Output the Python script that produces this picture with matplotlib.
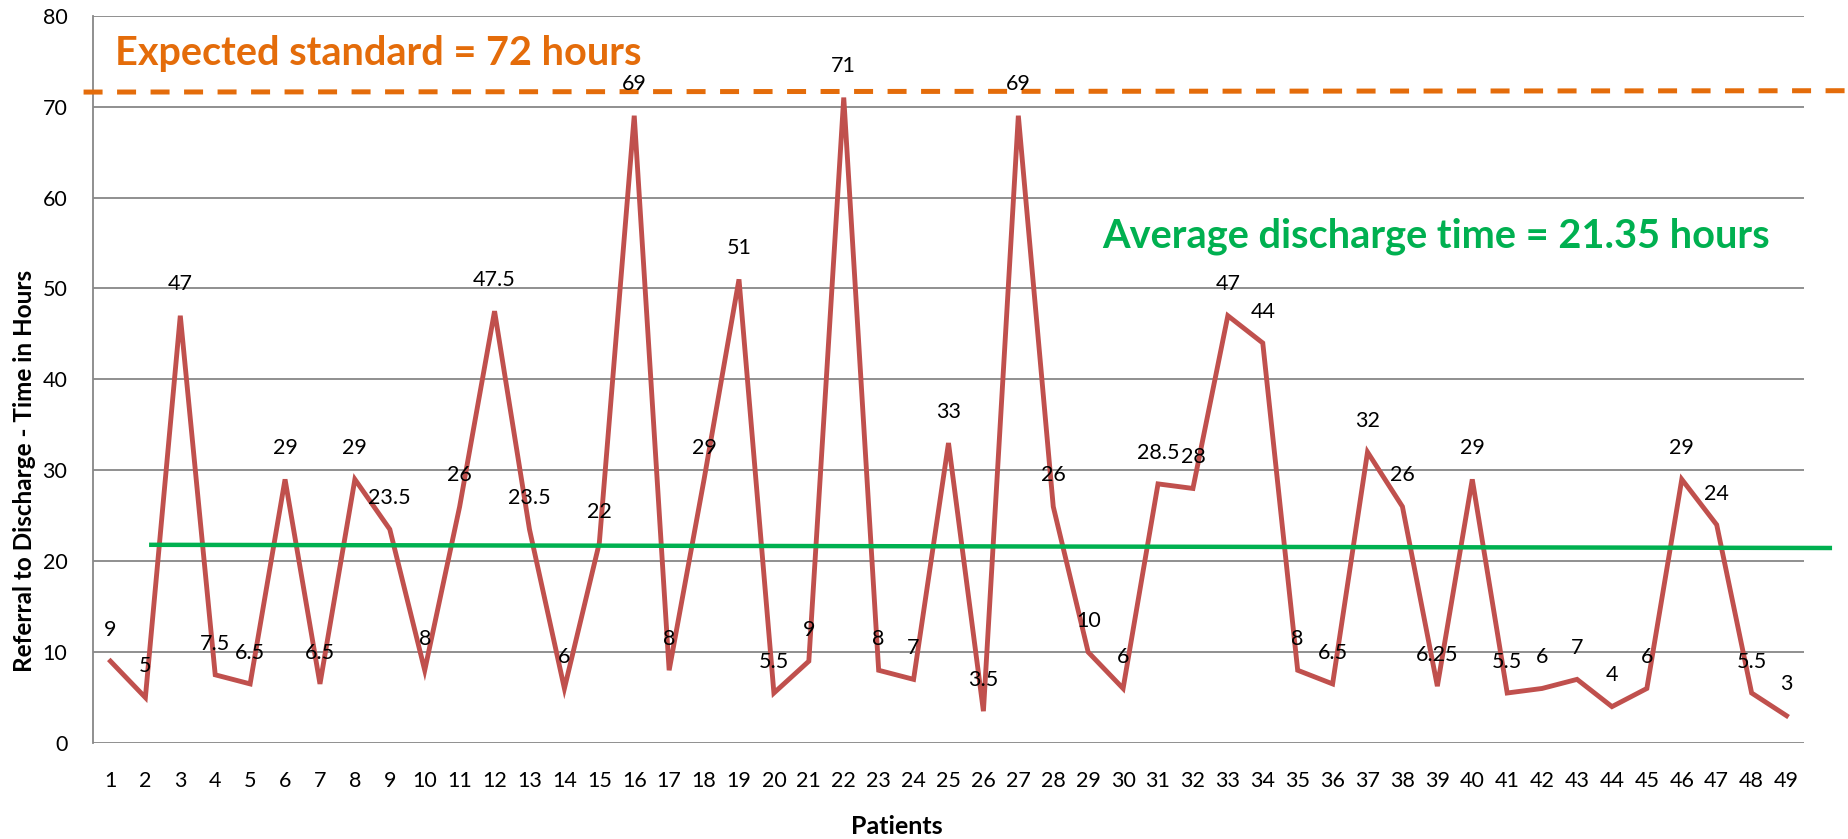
import matplotlib
matplotlib.use("Agg")
import matplotlib.pyplot as plt

# referral-to-discharge times per patient (hours)
patients = list(range(1, 50))
hours = [9, 5, 47, 7.5, 6.5, 29, 6.5, 29, 23.5, 8,
         26, 47.5, 23.5, 6, 22, 69, 8, 29, 51, 5.5,
         9, 71, 8, 7, 33, 3.5, 69, 26, 10, 6,
         28.5, 28, 47, 44, 8, 6.5, 32, 26, 6.25, 29,
         5.5, 6, 7, 4, 6, 29, 24, 5.5, 3]
y_ticks = [0, 10, 20, 30, 40, 50, 60, 70, 80]

# hand drawn reference lines (x ends, y ends)
expected_x = [0.23, 50.8]
expected_y = [71.6, 71.75]
average_x = [2.17, 50.24]
average_y = [21.8, 21.45]

RED = "#C0504D"
GREEN = "#00B050"
ORANGE = "#E46C0A"
GRID = "#878787"

plt.rcParams["font.family"] = ["Lato", "DejaVu Sans"]

fig = plt.figure(figsize=(18.49, 8.39), dpi=100)
ax = fig.add_axes([93 / 1849, 1 - 743 / 839, 1711 / 1849, 727.3 / 839])

ax.set_xlim(0.5, 49.5)
ax.set_ylim(0, 80)
ax.set_yticks(y_ticks)
ax.set_xticks(patients)
ax.set_xticklabels([str(p) for p in patients])
ax.yaxis.grid(True, color=GRID, lw=1.3)
ax.set_axisbelow(True)
for side in ["top", "right", "bottom"]:
    ax.spines[side].set_visible(False)
ax.spines["left"].set_color(GRID)
ax.spines["left"].set_linewidth(1.3)
ax.tick_params(axis="both", length=0, labelsize=15.5, colors="black")
ax.tick_params(axis="y", pad=18.5)
ax.tick_params(axis="x", pad=20)

ax.plot(patients, hours, color=RED, lw=3.5, solid_joinstyle="miter", zorder=3)

for p, h in zip(patients, hours):
    ax.annotate(f"{h:g}", (p, h), xytext=(0, 18.2), textcoords="offset points",
                ha="center", va="baseline", fontsize=15.5, zorder=5)

# expected standard and average lines
ax.plot(expected_x, expected_y, color=ORANGE, lw=3.6, dashes=[3.8, 2.9],
        clip_on=False, zorder=4)
ax.plot(average_x, average_y, color=GREEN, lw=3.2, clip_on=False, zorder=4)

ax.text(1.13, 74.58, "Expected standard = 72 hours", color=ORANGE,
        fontsize=28.5, fontweight="bold", ha="left", va="baseline")
ax.text(29.39, 54.45, "Average discharge time = 21.35 hours", color=GREEN,
        fontsize=28.6, fontweight="bold", ha="left", va="baseline")

ax.set_xlabel("Patients", fontsize=18, fontweight="bold", va="center")
ax.xaxis.set_label_coords((897 - 93) / 1711, (743 - 827) / 727.3)
ax.set_ylabel("Referral to Discharge - Time in Hours", fontsize=17.5,
              fontweight="bold", va="center")
ax.yaxis.set_label_coords((25 - 93) / 1711, (743 - 471) / 727.3)

fig.savefig("out.png", dpi=100)
